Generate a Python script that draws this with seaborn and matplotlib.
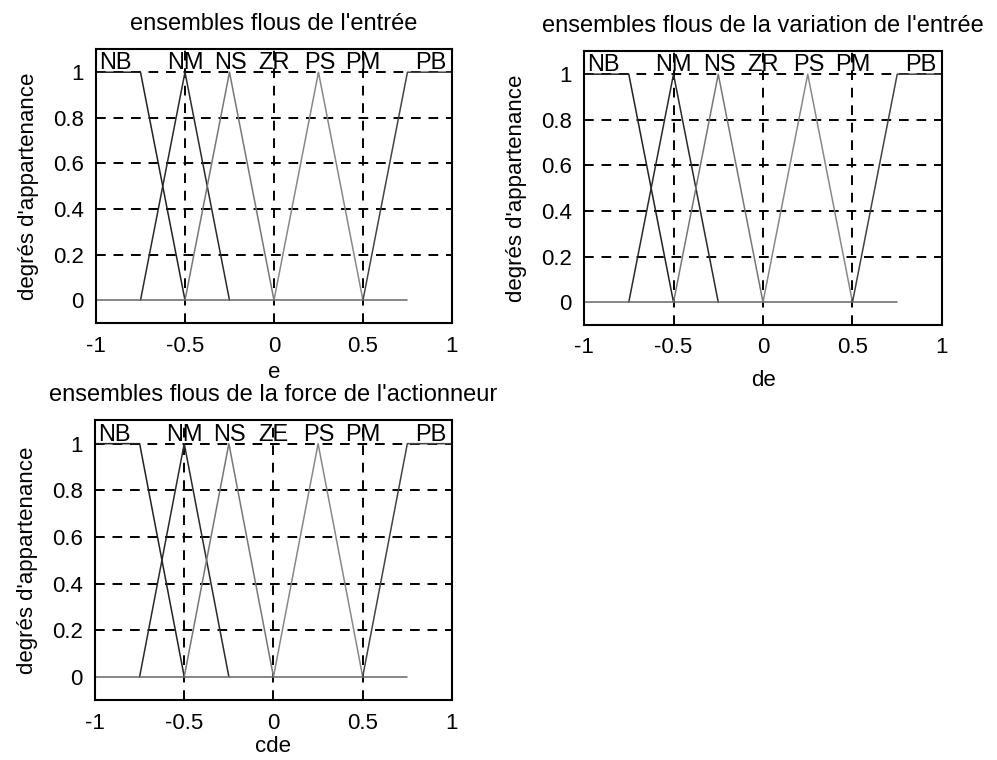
import numpy as np
import pandas as pd
import matplotlib
matplotlib.use('Agg')
import matplotlib.pyplot as plt
import seaborn as sns

# fonctions d'appartenance
nb_x = [-1.0, -0.75, -0.5]
nb_y = [1.0, 1.0, 0.0]
nm_x = [-0.75, -0.5, -0.25]
nm_y = [0.0, 1.0, 0.0]
ns_x = [-0.5, -0.25, 0.0]
ns_y = [0.0, 1.0, 0.0]
ps_x = [0.0, 0.25, 0.5]
ps_y = [0.0, 1.0, 0.0]
pb_x = [0.5, 0.75, 1.0]
pb_y = [0.0, 1.0, 1.0]
base_x = [-1.0, 0.75]
base_y = [0.0, 0.0]

labels_in = ['NB', 'NM', 'NS', 'ZR', 'PS', 'PM', 'PB']
labels_out = ['NB', 'NM', 'NS', 'ZE', 'PS', 'PM', 'PB']
label_pos = [-0.89, -0.5, -0.245, 0.0, 0.255, 0.5, 0.88]

x_ticks = [-1, -0.5, 0, 0.5, 1]
x_ticklabels = ['-1', '-0.5', '0', '0.5', '1']
y_ticks = [0, 0.2, 0.4, 0.6, 0.8, 1]
y_ticklabels = ['0', '0.2', '0.4', '0.6', '0.8', '1']

titles = ["ensembles flous de l'entrée",
          "ensembles flous de la variation de l'entrée",
          "ensembles flous de la force de l'actionneur"]
xlabels = ['e', 'de', 'cde']

sns.set_style('white')
plt.rcParams['font.family'] = ['Liberation Sans', 'DejaVu Sans']
plt.rcParams['text.color'] = 'black'
plt.rcParams['axes.labelcolor'] = 'black'

mf_df = pd.concat([
    pd.DataFrame({'x': nb_x, 'y': nb_y, 'mf': 'NB'}),
    pd.DataFrame({'x': nm_x, 'y': nm_y, 'mf': 'NM'}),
    pd.DataFrame({'x': ns_x, 'y': ns_y, 'mf': 'NS'}),
    pd.DataFrame({'x': ps_x, 'y': ps_y, 'mf': 'PS'}),
    pd.DataFrame({'x': pb_x, 'y': pb_y, 'mf': 'PB'}),
    pd.DataFrame({'x': base_x, 'y': base_y, 'mf': 'base'}),
], ignore_index=True)

palette = {'NB': '#222222', 'NM': '#2a2a2a', 'NS': '#777777',
           'PS': '#888888', 'PB': '#444444', 'base': '#666666'}

fig = plt.figure(figsize=(9.97, 7.6), dpi=100)
positions = [[0.0963, 0.575, 0.357, 0.36],
             [0.5858, 0.5724, 0.359, 0.36],
             [0.0953, 0.0789, 0.358, 0.368]]
xlabel_pads = [4, 8, 2]

for i, pos in enumerate(positions):
    ax = fig.add_axes(pos)
    sns.lineplot(data=mf_df, x='x', y='y', hue='mf', units='mf', estimator=None,
                 sort=False, palette=palette, linewidth=1.1, legend=False, ax=ax)
    ax.set_xlim(-1, 1)
    ax.set_ylim(-0.1, 1.1)
    ax.set_xticks(x_ticks)
    ax.set_xticklabels(x_ticklabels)
    ax.set_yticks(y_ticks)
    ax.set_yticklabels(y_ticklabels)
    ax.tick_params(direction='in', length=4, labelsize=16, colors='black', pad=9)
    # grille pointillée style MATLAB
    for xv in [-0.5, 0, 0.5]:
        ax.axvline(xv, color='black', linestyle=(0, (5, 4)), linewidth=1.4, zorder=1)
    for yv in [0.2, 0.4, 0.6, 0.8, 1.0]:
        ax.axhline(yv, color='black', linestyle=(0, (5, 4)), linewidth=1.4, zorder=1)
    for s in ax.spines.values():
        s.set_color('black')
        s.set_linewidth(1.5)
    names = labels_out if i == 2 else labels_in
    for name, xp in zip(names, label_pos):
        ax.text(xp, 1.012, name, ha='center', va='baseline', fontsize=17,
                color='black')
    ax.set_title(titles[i], fontsize=17, pad=14, color='black')
    ax.set_xlabel(xlabels[i], fontsize=16, labelpad=xlabel_pads[i])
    ax.set_ylabel("degrés d'appartenance", fontsize=16, labelpad=10)

fig.savefig('out.png', dpi=100, facecolor='white')
